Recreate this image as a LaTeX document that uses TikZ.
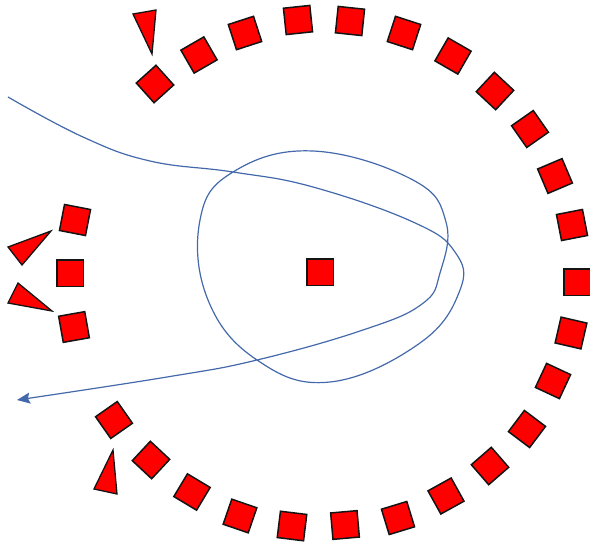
\documentclass[tikz,border=0pt]{standalone}
\usepackage{tikz}
\usetikzlibrary{arrows.meta}
\definecolor{myred}{RGB}{255,0,0}
\definecolor{mydark}{RGB}{20,20,20}
\definecolor{myblue}{RGB}{68,105,170}
\tikzset{
  tile/.style={rectangle, draw=mydark, fill=myred,
    minimum size=26.5pt, inner sep=0pt, line width=1.5pt},
  wedge/.style={draw=mydark, fill=myred, line width=1.3pt, line join=miter},
  track/.style={-{Stealth[length=13pt, width=11pt, inset=2pt]},
    color=myblue, line width=1.2pt}
}

\begin{document}
\begin{tikzpicture}[x=1pt, y=-1pt]
  \useasboundingbox (0,0) rectangle (590,542);

  % Ring of tiles around the hub
  \foreach \x/\y/\r [count=\i] in {155/84/132, 199/55/120, 245/33/108,
      298/20/96, 350/21/84, 404/33/72, 453/56/60, 495/91/47, 530/129/35,
      555/176/23, 572/225/11, 577/282/0, 571/333/-13, 553/381/-25,
      527/429/-37, 490/466/-49, 446/496/-61, 398/518/-73, 345/525/-85,
      292/526/-97, 240/516/-109, 192/492/-121, 151/460/-133, 114/420/-145}
    \node[tile, rotate=\r] (s\i) at (\x,\y) {};

  % Hub
  \node[tile] (hub) at (320,272) {};

  % Left tiles
  \node[tile, rotate=-11] (l1) at (75,220) {};
  \node[tile] (l2) at (70,273) {};
  \node[tile, rotate=10] (l3) at (74,327) {};

  % Wedges
  \draw[wedge] (133,14) -- (156,10) -- (152,54) -- cycle;
  \draw[wedge] (8,247) -- (51,231) -- (22,265) -- cycle;
  \draw[wedge] (18,283) -- (8,303) -- (52,311) -- cycle;
  \draw[wedge] (113,450) -- (94,489) -- (117,494) -- cycle;

  % Path through the ring
  \draw[track] plot[smooth, tension=0.7] coordinates {
    (8,97) (83,137) (150,161) (233,172) (313,187) (413,222)
    (455,252) (460,290) (420,343) (330,382) (257,360)
    (208,300) (200,220) (233,172) (313,151) (413,180)
    (446,222) (440,273) (422,304) (363,330) (257,360)
    (167,377) (17,400)};
\end{tikzpicture}
\end{document}
